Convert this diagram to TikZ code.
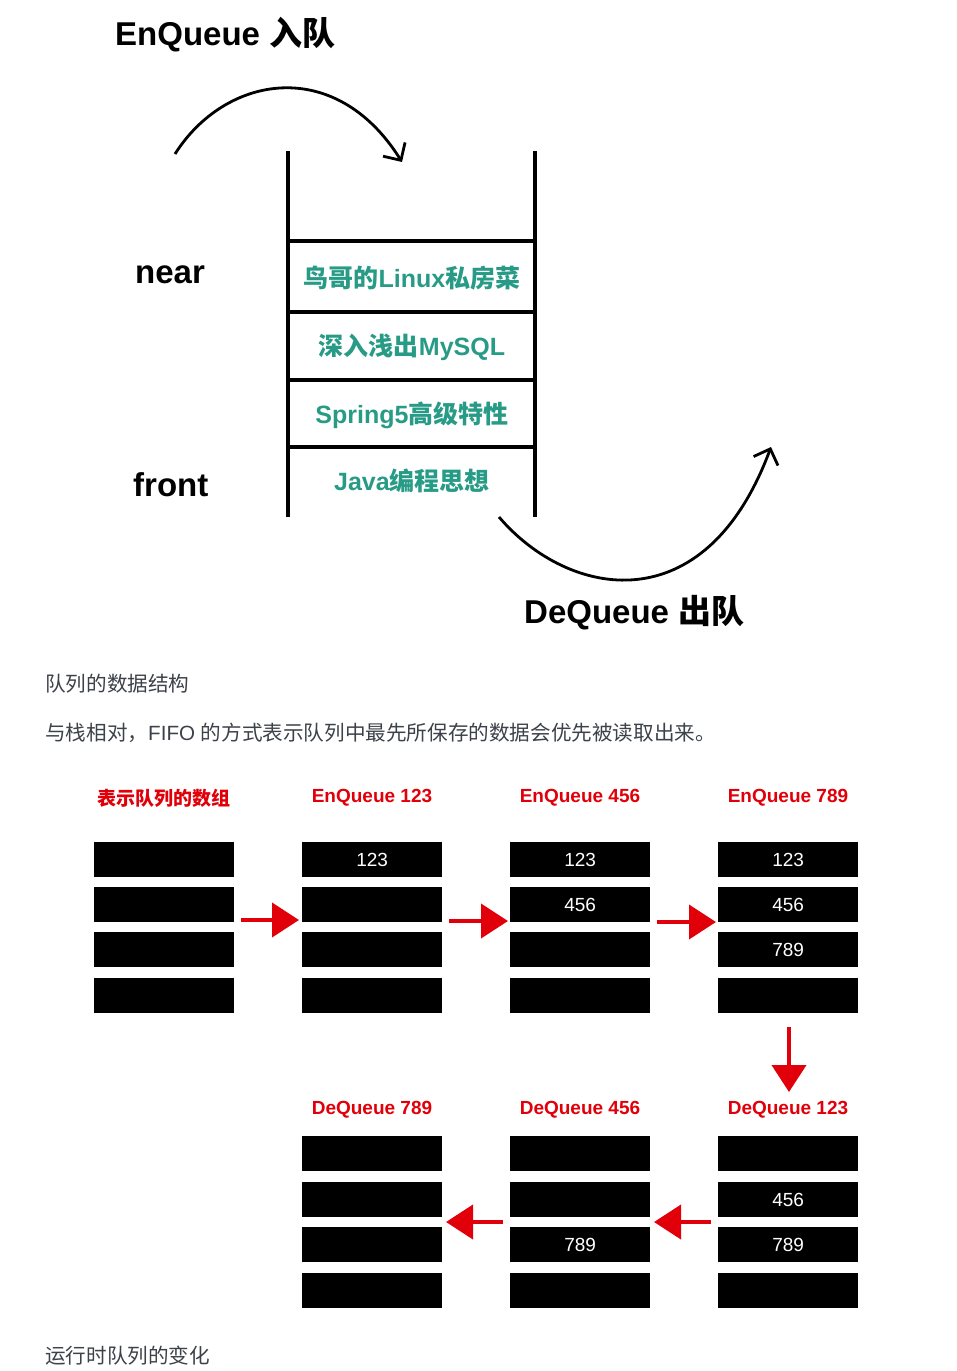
\documentclass[tikz,border=0pt]{standalone}
\usepackage{fontspec}
\setmainfont{Liberation Sans}
\newfontfamily\cjk{Noto Sans CJK SC}
\usetikzlibrary{arrows.meta}
\definecolor{tealtxt}{RGB}{40,155,135}
\definecolor{redlbl}{RGB}{225,0,10}
\definecolor{graytxt}{RGB}{60,66,74}
\begin{document}
\begin{tikzpicture}[x=1pt,y=-1pt,
  blk/.style={fill=black, minimum width=140pt, minimum height=35pt, inner sep=0pt, anchor=north west, text=white, font=\fontsize{19}{22}\selectfont},
  lbl/.style={text=redlbl, font=\bfseries\fontsize{19}{22}\selectfont, inner sep=0pt},
  redarrow/.style={draw=redlbl, line width=4pt, -{Triangle[length=27pt,width=34pt]}},
  stackline/.style={line width=3.2pt, line cap=butt},
  curvearrow/.style={line width=2.8pt, -{Straight Barb[length=13pt,width=26pt,line width=2.8pt]}},
  celltxt/.style={text=tealtxt, font=\bfseries\fontsize{25}{30}\selectfont, inner sep=0pt, anchor=base},
  bigtxt/.style={font=\bfseries\fontsize{33}{40}\selectfont, inner sep=0pt},
  graytext/.style={text=graytxt, font=\fontsize{20.6}{24}\selectfont, inner sep=0pt, anchor=west}
]
\useasboundingbox (0,0) rectangle (957,1371);
\fill[white] (0,0) rectangle (957,1371);

% ---------- top diagram ----------
\node[bigtxt, anchor=base west] (enqtitle) at (115,45) {EnQueue {\cjk 入队}};
\node[bigtxt, anchor=base west] (near) at (135,283) {near};
\node[bigtxt, anchor=base west] (front) at (133,496) {front};
\node[bigtxt, anchor=base west] (deqtitle) at (524,623) {DeQueue {\cjk 出队}};

\draw[stackline] (288,151) -- (288,517);
\draw[stackline] (535,151) -- (535,517);
\foreach \yy in {241,312,380,447} \draw[stackline] (288,\yy) -- (535,\yy);

\node[celltxt] (s1) at (412,287) {{\cjk 鸟哥的}Linux{\cjk 私房菜}};
\node[celltxt] (s2) at (412,355) {{\cjk 深入浅出}MySQL};
\node[celltxt] (s3) at (412,423) {Spring5{\cjk 高级特性}};
\node[celltxt] (s4) at (412,490) {Java{\cjk 编程思想}};

\coordinate (enqS) at (175,154);
\coordinate (enqE) at (402,162);
\draw[curvearrow] (enqS) .. controls (225,75) and (335,55) .. (enqE);
\coordinate (deqS) at (499,517);
\coordinate (deqE) at (771,447);
\draw[curvearrow] (deqS) .. controls (568,598) and (705,625) .. (deqE);

% ---------- captions ----------
\node[graytext] (cap1) at (45,684) {\cjk 队列的数据结构};
\node[graytext] (cap2) at (45,733) {{\cjk 与栈相对，}FIFO {\cjk 的方式表示队列中最先所保存的数据会优先被读取出来。}};
\node[graytext] (cap3) at (45,1356) {\cjk 运行时队列的变化};

% ---------- enqueue arrays ----------
\node[lbl] (l1) at (164,798) {\cjk 表示队列的数组};
\node[lbl] (l2) at (372,798) {EnQueue 123};
\node[lbl] (l3) at (580,798) {EnQueue 456};
\node[lbl] (l4) at (788,798) {EnQueue 789};

\node[blk] (t11) at (94,842) {};
\node[blk] (t12) at (94,887) {};
\node[blk] (t13) at (94,932) {};
\node[blk] (t14) at (94,978) {};

\node[blk] (t21) at (302,842) {123};
\node[blk] (t22) at (302,887) {};
\node[blk] (t23) at (302,932) {};
\node[blk] (t24) at (302,978) {};

\node[blk] (t31) at (510,842) {123};
\node[blk] (t32) at (510,887) {456};
\node[blk] (t33) at (510,932) {};
\node[blk] (t34) at (510,978) {};

\node[blk] (t41) at (718,842) {123};
\node[blk] (t42) at (718,887) {456};
\node[blk] (t43) at (718,932) {789};
\node[blk] (t44) at (718,978) {};

% ---------- dequeue arrays ----------
\node[lbl] (d1) at (372,1110) {DeQueue 789};
\node[lbl] (d2) at (580,1110) {DeQueue 456};
\node[lbl] (d3) at (788,1110) {DeQueue 123};

\node[blk] (b21) at (302,1136) {};
\node[blk] (b22) at (302,1182) {};
\node[blk] (b23) at (302,1227) {};
\node[blk] (b24) at (302,1273) {};

\node[blk] (b31) at (510,1136) {};
\node[blk] (b32) at (510,1182) {};
\node[blk] (b33) at (510,1227) {789};
\node[blk] (b34) at (510,1273) {};

\node[blk] (b41) at (718,1136) {};
\node[blk] (b42) at (718,1182) {456};
\node[blk] (b43) at (718,1227) {789};
\node[blk] (b44) at (718,1273) {};

% ---------- red arrows ----------
\coordinate (ra1s) at (241,920); \coordinate (ra1e) at (299,920);
\coordinate (ra2s) at (449,921); \coordinate (ra2e) at (508,921);
\coordinate (ra3s) at (657,922); \coordinate (ra3e) at (716,922);
\coordinate (rdS) at (789,1027); \coordinate (rdE) at (789,1092);
\coordinate (rl1s) at (503,1222); \coordinate (rl1e) at (446,1222);
\coordinate (rl2s) at (711,1222); \coordinate (rl2e) at (654,1222);
\draw[redarrow] (ra1s) -- (ra1e);
\draw[redarrow] (ra2s) -- (ra2e);
\draw[redarrow] (ra3s) -- (ra3e);
\draw[redarrow] (rdS) -- (rdE);
\draw[redarrow] (rl1s) -- (rl1e);
\draw[redarrow] (rl2s) -- (rl2e);
\end{tikzpicture}
\end{document}
